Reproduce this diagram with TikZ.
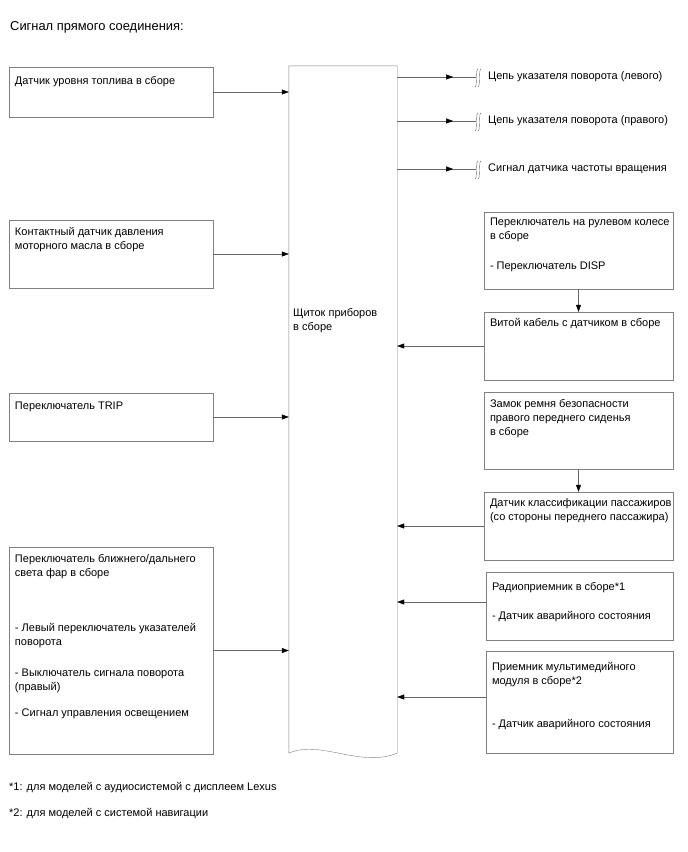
\documentclass[tikz,border=0pt]{standalone}
\usepackage{fontspec}
\setmainfont{Liberation Sans}
\usetikzlibrary{arrows.meta,decorations.markings}
\tikzset{
  box/.style={draw=black!50, rectangle, inner sep=0pt},
  txt/.style={anchor=north west, align=left, inner sep=0pt, font=\fontsize{11}{14}\selectfont},
  line/.style={draw=black!60},
  arr/.style={-{Triangle[length=7pt,width=5pt,color=black]}},
  midarr/.style={postaction={decorate}, decoration={markings,
    mark=at position 0.71 with {\arrow{Triangle[length=7pt,width=5pt,color=black]}}}},
  brk/.pic={
    \draw[black!60] (-1.5,10) .. controls (0,11.5) and (0.5,6) .. (0.5,1) .. controls (0.5,-4) and (1,-9.5) .. (2.5,-8);
    \draw[black!60] (1.5,10) .. controls (3,11.5) and (3.5,6) .. (3.5,1) .. controls (3.5,-4) and (4,-9.5) .. (5.5,-8);
  }
}
\begin{document}
\begin{tikzpicture}[x=1pt,y=-1pt]
\useasboundingbox (0,0) rectangle (688,852);
\node[anchor=base west, inner sep=0pt, font=\fontsize{12.9}{15}\selectfont] (title) at (10,30) {Сигнал прямого соединения:};
% central unit
\node[minimum width=108pt, minimum height=687pt, inner sep=0pt] (panel) at (343,409.5) {};
\draw[black!50] (panel.north west) -- (panel.north east) -- (panel.south east)
  .. controls +(-37,15) and +(31,-14) .. (panel.south west) -- cycle;
\node[txt] (paneltxt) at (293,308.5) {Щиток приборов\\в сборе};
% left side
\node[box, minimum width=204pt, minimum height=50pt] (fuel) at (111,92) {};
\node[txt] (fueltxt) at ([shift={(6,9.5)}]fuel.north west) {Датчик уровня топлива в сборе};
\node[box, minimum width=204pt, minimum height=68pt] (oil) at (111,254) {};
\node[txt] (oiltxt) at ([shift={(6,7)}]oil.north west) {Контактный датчик давления\\моторного масла в сборе};
\node[box, minimum width=204pt, minimum height=48pt] (trip) at (111,417) {};
\node[txt] (triptxt) at ([shift={(6,9)}]trip.north west) {Переключатель TRIP};
\node[box, minimum width=204pt, minimum height=207pt] (head) at (111,650.5) {};
\node[txt] (headtxt) at ([shift={(6,7)}]head.north west) {Переключатель ближнего/дальнего\\света фар в сборе\\[41pt]- Левый переключатель указателей\\поворота\\[17pt]- Выключатель сигнала поворота\\(правый)\\[12pt]- Сигнал управления освещением};
\draw[line, arr] (fuel.east) -- (fuel.east -| panel.west);
\draw[line, arr] (oil.east) -- (oil.east -| panel.west);
\draw[line, arr] (trip.east) -- (trip.east -| panel.west);
\draw[line, arr] (head.east) -- (head.east -| panel.west);
% outputs
\node[txt, anchor=west] (outL) at (488,77) {Цепь указателя поворота (левого)};
\node[txt, anchor=west] (outR) at (488,121) {Цепь указателя поворота (правого)};
\node[txt, anchor=west] (outS) at (488,169) {Сигнал датчика частоты вращения};
\coordinate (brkL) at ([xshift=-12pt]outL.west);
\coordinate (brkR) at ([xshift=-12pt]outR.west);
\coordinate (brkS) at ([xshift=-12pt]outS.west);
\draw[line, midarr] (brkL -| panel.east) -- (brkL);
\draw[line, midarr] (brkR -| panel.east) -- (brkR);
\draw[line, midarr] (brkS -| panel.east) -- (brkS);
\pic at (brkL) {brk};
\pic at (brkR) {brk};
\pic at (brkS) {brk};
% right side
\node[box, minimum width=189pt, minimum height=77pt] (steer) at (578.5,250.5) {};
\node[txt] (steertxt) at ([shift={(6,6)}]steer.north west) {Переключатель на рулевом колесе\\в сборе\\[16pt]- Переключатель DISP};
\node[box, minimum width=189pt, minimum height=68pt] (cable) at (578.5,346) {};
\node[txt] (cabletxt) at ([shift={(6,6)}]cable.north west) {Витой кабель с датчиком в сборе};
\node[box, minimum width=189pt, minimum height=77pt] (belt) at (578.5,430.5) {};
\node[txt] (belttxt) at ([shift={(6,7.5)}]belt.north west) {Замок ремня безопасности\\правого переднего сиденья\\в сборе};
\node[box, minimum width=189pt, minimum height=68pt] (occ) at (578.5,526) {};
\node[txt] (occtxt) at ([shift={(6,7)}]occ.north west) {Датчик классификации пассажиров\\(со стороны переднего пассажира)};
\node[box, minimum width=187pt, minimum height=68pt] (radio) at (579.5,606) {};
\node[txt] (radiotxt) at ([shift={(6,10)}]radio.north west) {Радиоприемник в сборе*1\\[15pt]- Датчик аварийного состояния};
\node[box, minimum width=187pt, minimum height=102pt] (media) at (579.5,702) {};
\node[txt] (mediatxt) at ([shift={(6,11)}]media.north west) {Приемник мультимедийного\\модуля в сборе*2\\[29pt]- Датчик аварийного состояния};
\draw[line, arr] (steer.south) -- (cable.north);
\draw[line, arr] (belt.south) -- (occ.north);
\draw[line, arr] (cable.west) -- (cable.west -| panel.east);
\draw[line, arr] (occ.west) -- (occ.west -| panel.east);
\draw[line, arr] ([yshift=4pt]radio.west) -- ([yshift=4pt]radio.west -| panel.east);
\draw[line, arr] ([yshift=5pt]media.west) -- ([yshift=5pt]media.west -| panel.east);
% notes
\node[anchor=base west, inner sep=0pt, font=\fontsize{11}{14}\selectfont] (note1) at (9,790) {*1: для моделей с аудиосистемой с дисплеем Lexus};
\node[anchor=base west, inner sep=0pt, font=\fontsize{11}{14}\selectfont] (note2) at (9,816) {*2: для моделей с системой навигации};
\end{tikzpicture}
\end{document}
